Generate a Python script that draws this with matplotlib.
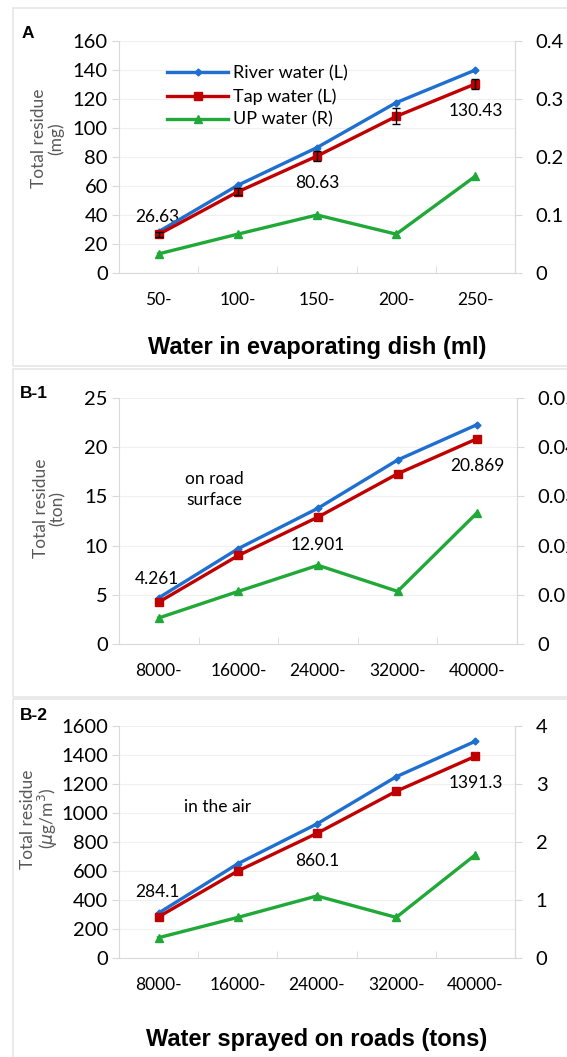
import matplotlib.pyplot as plt
from matplotlib.patches import Rectangle
import numpy as np

# Categorias
cats_a = ['50-', '100-', '150-', '200-', '250-']
cats_b = ['8000-', '16000-', '24000-', '32000-', '40000-']

# Painel A (mg)
rio_a = [28.5, 60.5, 86.5, 117.5, 140.0]
torneira_a = [26.63, 56.0, 80.63, 108.0, 130.43]
erro_a = [1.5, 2.5, 3.5, 5.5, 3.5]
up_a = [0.033, 0.067, 0.100, 0.067, 0.167]

# Painel B-1 (ton)
rio_b1 = [4.7, 9.7, 13.8, 18.7, 22.3]
torneira_b1 = [4.261, 9.0, 12.901, 17.3, 20.869]
up_b1 = [0.0053, 0.0107, 0.0160, 0.0107, 0.0267]

# Painel B-2 (ug/m3)
rio_b2 = [310, 650, 925, 1250, 1495]
torneira_b2 = [284.1, 600, 860.1, 1150, 1391.3]
up_b2 = [0.35, 0.70, 1.07, 0.70, 1.78]

AZUL = '#1f6fd0'
VERMELHO = '#c00000'
VERDE = '#20a838'
CINZA = '#d9d9d9'

W, H = 567, 1057
fig = plt.figure(figsize=(W / 100, H / 100), dpi=100)
plt.rcParams['font.family'] = ['Lato', 'DejaVu Sans']


def eixo(l, t, r, b):
    return fig.add_axes([l / W, 1 - b / H, (r - l) / W, (b - t) / H])


def caixa(t, b):
    fig.patches.append(Rectangle((13 / W, 1 - b / H), 1.0, (b - t) / H,
                                 transform=fig.transFigure, fill=False,
                                 edgecolor='#e6e6e6', lw=1.2))


def painel(ax, cats, rio, torneira, up, ymax, ystep, rmax, rstep, rfmt, erro=None):
    x = np.arange(len(cats))
    ax.spines['top'].set_visible(False)
    for s in ['left', 'right', 'bottom']:
        ax.spines[s].set_color(CINZA)
    ax.set_xlim(-0.5, len(cats) - 0.5)
    ax.set_ylim(0, ymax)
    ax.set_yticks(np.arange(0, ymax + ystep / 2, ystep))
    ax.grid(axis='y', color='#f0f0f0', lw=0.8)
    ax.set_axisbelow(True)
    ax.set_xticks(x)
    ax.set_xticklabels(cats, fontsize=12.5)
    ax.set_xticks(np.arange(0.5, len(cats) - 0.5, 1), minor=True)
    ax.tick_params(axis='x', which='major', length=0, pad=14)
    ax.tick_params(axis='x', which='minor', length=5, direction='in', color=CINZA)
    ax.tick_params(axis='y', length=5, color=CINZA, labelsize=14.5, pad=3)
    ax.plot(x, rio, color=AZUL, lw=2.4, marker='D', ms=3.5, label='River water (L)', zorder=4)
    ax.plot(x, torneira, color=VERMELHO, lw=2.4, marker='s', ms=6, label='Tap water (L)', zorder=5)
    if erro is not None:
        ax.errorbar(x, torneira, yerr=erro, fmt='none', ecolor='black', capsize=3, lw=1, zorder=6)
    ax2 = ax.twinx()
    for s in ['top', 'left', 'bottom']:
        ax2.spines[s].set_visible(False)
    ax2.spines['right'].set_color(CINZA)
    ax2.set_ylim(0, rmax)
    rt = np.arange(0, rmax + rstep / 2, rstep)
    ax2.set_yticks(rt)
    ax2.set_yticklabels(['0'] + [rfmt.format(v) for v in rt[1:]])
    ax2.tick_params(axis='y', length=5, color=CINZA, labelsize=14.5, pad=10)
    l3, = ax2.plot(x, up, color=VERDE, lw=2.4, marker='^', ms=6, label='UP water (R)')
    return ax2, l3


# Painel A
caixa(8, 366)
axA = eixo(119, 41, 515, 273)
axA2, l3 = painel(axA, cats_a, rio_a, torneira_a, up_a, 160, 20, 0.4, 0.1, '{:.1f}', erro=erro_a)
h, lab = axA.get_legend_handles_labels()
axA.legend(h + [l3], lab + ['UP water (R)'], loc='upper left', bbox_to_anchor=(0.08, 0.965),
           frameon=False, fontsize=13, handlelength=3.4, labelspacing=0.38, handletextpad=0.25)
axA.text(-0.02, 38.5, '26.63', ha='center', va='center', fontsize=12.5)
axA.text(2, 62, '80.63', ha='center', va='center', fontsize=12.5)
axA.text(4, 112, '130.43', ha='center', va='center', fontsize=12.5)
axA.set_xlabel('Water in evaporating dish (ml)', fontsize=17, fontweight='bold',
               family='Liberation Sans', labelpad=20)
fig.text(22 / W, 1 - 33 / H, 'A', fontsize=12.5, fontweight='bold', va='center', family='Liberation Sans')
axA.text(-0.18, 0.58, 'Total residue\n(mg)', transform=axA.transAxes, rotation=90,
         ha='center', va='center', fontsize=12.5, color='#595959', linespacing=1.0)

# Painel B-1
caixa(369, 697)
axB1 = eixo(119, 398, 517, 644)
painel(axB1, cats_b, rio_b1, torneira_b1, up_b1, 25, 5, 0.05, 0.01, '{:.2f}')
axB1.text(-0.02, 6.6, '4.261', ha='center', va='center', fontsize=12.5)
axB1.text(2, 10.1, '12.901', ha='center', va='center', fontsize=12.5)
axB1.text(4, 18.1, '20.869', ha='center', va='center', fontsize=12.5)
axB1.text(0.7, 15.7, 'on road\nsurface', ha='center', va='center', fontsize=12.5, linespacing=1.35)
fig.text(20 / W, 1 - 393 / H, 'B-1', fontsize=12.5, fontweight='bold', va='center', family='Liberation Sans')
axB1.text(-0.175, 0.55, 'Total residue\n(ton)', transform=axB1.transAxes, rotation=90,
          ha='center', va='center', fontsize=12.5, color='#595959', linespacing=1.0)

# Painel B-2
caixa(699, 1070)
axB2 = eixo(119, 726, 515, 958)
painel(axB2, cats_b, rio_b2, torneira_b2, up_b2, 1600, 200, 4, 1, '{:.0f}')
axB2.text(-0.02, 455, '284.1', ha='center', va='center', fontsize=12.5)
axB2.text(2, 670, '860.1', ha='center', va='center', fontsize=12.5)
axB2.text(4, 1210, '1391.3', ha='center', va='center', fontsize=12.5)
axB2.text(0.75, 1040, 'in the air', ha='center', va='center', fontsize=12.5)
axB2.set_xlabel('Water sprayed on roads (tons)', fontsize=17, fontweight='bold',
                family='Liberation Sans', labelpad=25)
fig.text(20 / W, 1 - 716 / H, 'B-2', fontsize=12.5, fontweight='bold', va='center', family='Liberation Sans')
axB2.text(-0.2, 0.6, 'Total residue\n($\\mu$g/m$^3$)', transform=axB2.transAxes, rotation=90,
          ha='center', va='center', fontsize=12.5, color='#595959', linespacing=1.0)

plt.savefig('out.png', dpi=100)
